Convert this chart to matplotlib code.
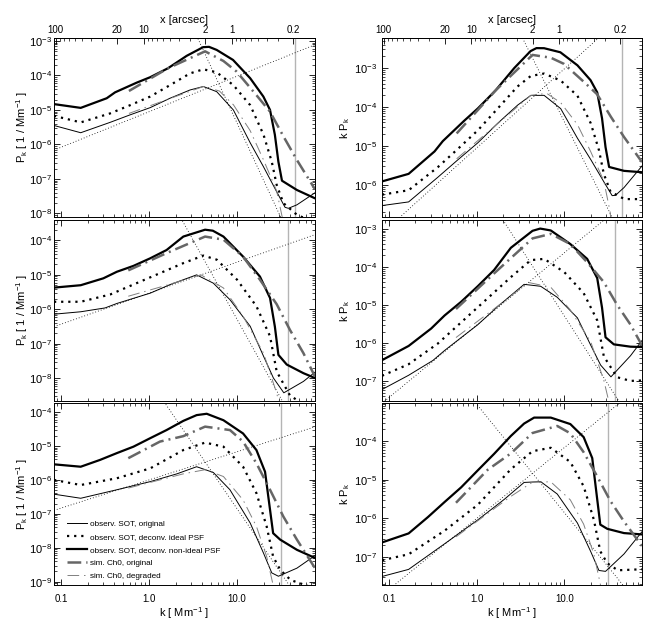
import numpy as np
import matplotlib
matplotlib.use("Agg")
import matplotlib.pyplot as plt
from matplotlib.ticker import (FixedLocator, FixedFormatter, LogLocator,
                               NullFormatter)
from matplotlib.lines import Line2D

plt.rcParams['font.family'] = ['Liberation Sans', 'DejaVu Sans']
plt.rcParams['mathtext.fontset'] = 'custom'
plt.rcParams['mathtext.rm'] = 'Liberation Sans'
plt.rcParams['mathtext.it'] = 'Liberation Sans:italic'
plt.rcParams['mathtext.default'] = 'regular'

# ---------------------------------------------------------------- data
# k in Mm^-1, P_k in 1/Mm^-1 ; right column shows k*P_k
# ---- top row
k_top_sot_nonideal = [0.083, 0.167, 0.33, 0.41, 0.72, 1.03, 1.64, 2.68, 4.11, 4.8, 5.87, 9.0, 14.1, 19.9, 23.7, 26.9, 29.5, 32.4, 47.9, 76.9]
P_top_sot_nonideal = [1.48e-5, 1.15e-5, 2.19e-5, 3.24e-5, 6.17e-5, 8.91e-5, 1.62e-4, 3.72e-4, 6.61e-4, 6.76e-4, 5.50e-4, 2.82e-4, 8.32e-5, 2.45e-5, 1.0e-5, 1.91e-6, 3.16e-7, 8.91e-8, 4.79e-8, 2.75e-8]
k_top_sot_orig = [0.083, 0.167, 0.36, 0.61, 1.03, 1.73, 2.92, 4.14, 5.87, 9.08, 14.1, 20.0, 28.2, 35.1, 38.3, 47.9, 76.9]
P_top_sot_orig = [3.55e-6, 2.19e-6, 4.37e-6, 7.24e-6, 1.17e-5, 2.19e-5, 3.80e-5, 4.79e-5, 3.39e-5, 1.0e-5, 1.12e-6, 2.24e-7, 4.27e-8, 1.51e-8, 1.41e-8, 1.78e-8, 3.98e-8]
k_top_sot_ideal = [0.083, 0.167, 0.36, 0.61, 1.03, 1.73, 2.92, 4.14, 5.87, 9.08, 14.1, 20.0, 24.8, 28.2, 33.6, 48.5, 76.9]
P_top_sot_ideal = [6.76e-6, 4.37e-6, 7.94e-6, 1.38e-5, 2.45e-5, 5.25e-5, 1.15e-4, 1.51e-4, 1.23e-4, 5.25e-5, 1.38e-5, 1.91e-6, 3.16e-7, 6.76e-8, 2.0e-8, 8.91e-9, 5.62e-9]
k_top_sim_orig = [0.59, 1.64, 4.33, 7.0, 9.9, 16.6, 23.7, 33.9, 47.9, 76.9]
P_top_sim_orig = [3.55e-5, 1.62e-4, 5.01e-4, 2.63e-4, 1.29e-4, 2.69e-5, 8.91e-6, 1.66e-6, 3.55e-7, 5.01e-8]
k_top_sim_deg = [0.59, 1.6, 4.14, 6.3, 9.1, 14.1, 20.0, 28.2, 33.2, 36.0]
P_top_sim_deg = [7.94e-6, 2.0e-5, 4.79e-5, 3.55e-5, 1.41e-5, 2.51e-6, 3.55e-7, 4.47e-8, 6.31e-9, 1.0e-9]

# ---- middle row
k_mid_sot_nonideal = [0.083, 0.167, 0.302, 0.43, 0.664, 1.03, 1.58, 2.45, 4.33, 5.3, 7.0, 11.7, 18.2, 23.7, 26.9, 29.5, 36.7, 56.8, 76.9]
P_mid_sot_nonideal = [4.27e-6, 5.01e-6, 7.94e-6, 1.23e-5, 1.82e-5, 3.02e-5, 5.25e-5, 1.29e-4, 2.04e-4, 1.91e-4, 1.29e-4, 3.39e-5, 8.91e-6, 2.14e-6, 3.16e-7, 4.79e-8, 2.51e-8, 1.41e-8, 1.02e-8]
k_mid_sot_orig = [0.083, 0.167, 0.316, 0.43, 1.03, 1.74, 3.47, 5.37, 8.3, 14.1, 20.0, 25.9, 34.0, 56.8, 76.9]
P_mid_sot_orig = [7.24e-7, 8.51e-7, 1.10e-6, 1.48e-6, 2.95e-6, 5.25e-6, 1.0e-5, 5.75e-6, 1.91e-6, 3.24e-7, 4.37e-8, 1.02e-8, 3.80e-9, 8.13e-9, 1.51e-8]
k_mid_sot_ideal = [0.083, 0.167, 0.36, 0.664, 1.33, 2.45, 4.14, 5.89, 10.0, 16.6, 23.7, 28.2, 40.0, 56.8, 76.9]
P_mid_sot_ideal = [1.66e-6, 1.66e-6, 2.69e-6, 5.25e-6, 1.12e-5, 2.19e-5, 3.63e-5, 2.75e-5, 7.24e-6, 1.23e-6, 1.66e-7, 1.58e-8, 3.16e-9, 1.78e-9, 1.35e-9]
k_mid_sim_orig = [0.58, 1.58, 4.33, 7.0, 11.7, 18.2, 28.2, 40.0, 56.8, 76.9]
P_mid_sim_orig = [1.35e-5, 4.27e-5, 1.29e-4, 1.05e-4, 3.39e-5, 7.24e-6, 1.41e-6, 2.51e-7, 5.37e-8, 1.12e-8]
k_mid_sim_deg = [0.58, 1.58, 3.89, 7.0, 11.7, 20.0, 28.2, 35.5]
P_mid_sim_deg = [2.40e-6, 5.01e-6, 1.0e-5, 4.17e-6, 6.31e-7, 5.37e-8, 3.72e-9, 3.16e-10]

# ---- bottom row
k_bot_sot_nonideal = [0.083, 0.167, 0.277, 0.43, 0.664, 1.03, 1.58, 2.45, 3.47, 4.52, 7.0, 11.7, 16.6, 20.8, 23.7, 25.7, 30.9, 47.9, 76.9]
P_bot_sot_nonideal = [2.88e-6, 2.45e-6, 3.89e-6, 6.17e-6, 9.55e-6, 1.70e-5, 2.95e-5, 5.50e-5, 8.13e-5, 8.91e-5, 5.75e-5, 2.34e-5, 7.59e-6, 1.74e-6, 1.32e-7, 2.69e-8, 1.74e-8, 8.71e-9, 5.01e-9]
k_bot_sot_orig = [0.083, 0.167, 0.43, 1.03, 2.07, 3.47, 5.37, 8.3, 14.1, 20.0, 24.8, 29.5, 47.9, 76.9]
P_bot_sot_orig = [3.80e-7, 2.88e-7, 5.13e-7, 8.91e-7, 1.51e-6, 2.45e-6, 1.66e-6, 5.13e-7, 5.37e-8, 6.92e-9, 1.82e-9, 1.45e-9, 2.51e-9, 5.89e-9]
k_bot_sot_ideal = [0.083, 0.167, 0.43, 1.03, 2.45, 4.33, 7.0, 11.7, 16.6, 21.7, 25.7, 30.9, 40.7, 76.9]
P_bot_sot_ideal = [1.0e-6, 7.08e-7, 1.12e-6, 2.19e-6, 7.59e-6, 1.26e-5, 9.55e-6, 2.45e-6, 4.07e-7, 4.27e-8, 5.50e-9, 2.24e-9, 1.12e-9, 6.31e-10]
k_bot_sim_orig = [0.58, 1.33, 2.45, 4.33, 8.3, 11.7, 16.6, 23.7, 33.6, 47.9, 76.9]
P_bot_sim_orig = [4.37e-6, 1.35e-5, 1.95e-5, 3.72e-5, 2.95e-5, 1.35e-5, 3.09e-6, 5.13e-7, 8.32e-8, 1.74e-8, 2.51e-9]
k_bot_sim_deg = [0.58, 2.45, 4.33, 7.0, 11.7, 16.6, 21.7, 25.7, 28.2]
P_bot_sim_deg = [5.75e-7, 1.51e-6, 2.0e-6, 1.26e-6, 2.57e-7, 4.27e-8, 5.50e-9, 7.94e-10, 1.58e-10]

# power-law guide lines  P = amp * k**slope  (one value per row)
guide_rise_amp = [8.9e-6, 2.95e-6, 1.0e-6]
guide_rise_slope = [1.03, 0.90, 0.83]
guide_fall_amp = [1.32, 2.04e-2, 8.9e-4]
guide_fall_slope = [-5.5, -4.6, -3.8]

# resolution limit (grey vertical line), per row
k_resolution = [45.5, 37.5, 31.4]

series_labels = ["observ. SOT, original",
                 "observ. SOT, deconv. ideal PSF",
                 "observ. SOT, deconv. non-ideal PSF",
                 "sim. Ch0, original",
                 "sim. Ch0, degraded"]

x_tick_values = [0.1, 1.0, 10.0]
x_tick_labels = ["0.1", "1.0", "10.0"]
arcsec_tick_values = [100, 20, 10, 2, 1, 0.2]
arcsec_tick_labels = ["100", "20", "10", "2", "1", "0.2"]

# ---------------------------------------------------------------- layout
K_LIM = (0.083, 76.9)
ARCSEC_K = 8.66          # x[arcsec] = ARCSEC_K / k
ylim_P = [(7.9e-9, 1.22e-3), (2.2e-9, 3.9e-4), (8.0e-10, 1.85e-4)]
ylim_kP = [(1.5e-7, 5.9e-3), (3.0e-8, 1.7e-3), (1.9e-8, 9.6e-4)]

W, H = 654, 625
col_x = [(54, 261), (382, 260)]
row_y = [(38, 217), (220, 401), (403, 585)]

styles = [
    dict(color='black', lw=0.7, ls='-'),
    dict(color='black', lw=1.6, ls=(0, (1.0, 2.2))),
    dict(color='black', lw=1.6, ls='-'),
    dict(color='#666666', lw=1.8, ls=(0, (5.5, 2.0, 0.8, 2.0))),
    dict(color='#808080', lw=0.7, ls=(0, (12, 5, 1.5, 5))),
]

rows = [
    [(k_top_sot_orig, P_top_sot_orig), (k_top_sot_ideal, P_top_sot_ideal),
     (k_top_sot_nonideal, P_top_sot_nonideal), (k_top_sim_orig, P_top_sim_orig),
     (k_top_sim_deg, P_top_sim_deg)],
    [(k_mid_sot_orig, P_mid_sot_orig), (k_mid_sot_ideal, P_mid_sot_ideal),
     (k_mid_sot_nonideal, P_mid_sot_nonideal), (k_mid_sim_orig, P_mid_sim_orig),
     (k_mid_sim_deg, P_mid_sim_deg)],
    [(k_bot_sot_orig, P_bot_sot_orig), (k_bot_sot_ideal, P_bot_sot_ideal),
     (k_bot_sot_nonideal, P_bot_sot_nonideal), (k_bot_sim_orig, P_bot_sim_orig),
     (k_bot_sim_deg, P_bot_sim_deg)],
]

fig = plt.figure(figsize=(W / 100, H / 100), dpi=100)


def arcsec(k):
    k = np.asarray(k, dtype=float)
    with np.errstate(divide='ignore', invalid='ignore'):
        return ARCSEC_K / k


for r in range(3):
    y0, y1 = row_y[r]
    for c in range(2):
        x0, w = col_x[c]
        ax = fig.add_axes([x0 / W, (H - y1) / H, w / W, (y1 - y0) / H])
        ax.set_xscale('log')
        ax.set_yscale('log')
        ax.set_xlim(*K_LIM)
        ax.set_ylim(*(ylim_P[r] if c == 0 else ylim_kP[r]))

        # resolution line
        ax.axvline(k_resolution[r], color='#b4b4b4', lw=1.0, zorder=1)

        # guides
        kg = np.array(K_LIM)
        for amp, sl in ((guide_rise_amp[r], guide_rise_slope[r]),
                        (guide_fall_amp[r], guide_fall_slope[r])):
            yg = amp * kg ** sl
            if c == 1:
                yg = yg * kg
            ax.plot(kg, yg, color='black', lw=0.6, ls=(0, (1, 2.5)), zorder=2)

        for (kk, PP), st in zip(rows[r], styles):
            kk = np.asarray(kk)
            PP = np.asarray(PP)
            yy = PP if c == 0 else kk * PP
            ax.plot(kk, yy, color=st['color'], lw=st['lw'], ls=st['ls'],
                    zorder=3, solid_joinstyle='round')

        for sp in ax.spines.values():
            sp.set_linewidth(0.7)

        ax.xaxis.set_major_locator(FixedLocator(x_tick_values))
        ax.xaxis.set_major_formatter(FixedFormatter(x_tick_labels))
        ax.xaxis.set_minor_locator(LogLocator(subs=np.arange(2, 10), numticks=20))
        ax.xaxis.set_minor_formatter(NullFormatter())
        ax.yaxis.set_major_locator(LogLocator(numticks=20))
        ax.yaxis.set_minor_locator(LogLocator(subs=np.arange(2, 10), numticks=20))
        ax.yaxis.set_minor_formatter(NullFormatter())

        ax.tick_params(which='both', direction='in', top=(r != 0), right=True)
        ax.tick_params(which='major', length=4, width=0.6)
        ax.tick_params(which='minor', length=2, width=0.5)
        ax.tick_params(axis='y', labelsize=8, pad=(1.5 if c == 0 else 3.5))
        ax.tick_params(axis='x', labelsize=7, pad=6.5,
                       labelbottom=(r == 2))

        if c == 0:
            ax.set_ylabel('P$_k$ [ 1 / Mm$^{-1}$ ]', fontsize=8)
            ax.yaxis.set_label_coords((30.5 - x0) / w, 0.5)
        else:
            ax.set_ylabel('k P$_k$', fontsize=8)
            ax.yaxis.set_label_coords((351.5 - x0) / w, 0.5)

        if r == 2:
            ax.set_xlabel('k [ Mm$^{-1}$ ]', fontsize=8)
            ax.xaxis.set_label_coords(0.5, (585 - 605.5) / (y1 - y0))

        if r == 0:
            sec = ax.secondary_xaxis('top', functions=(arcsec, arcsec))
            sec.xaxis.set_major_locator(FixedLocator(arcsec_tick_values))
            sec.xaxis.set_major_formatter(FixedFormatter(arcsec_tick_labels))
            sec.xaxis.set_minor_locator(LogLocator(subs=np.arange(2, 10), numticks=20))
            sec.xaxis.set_minor_formatter(NullFormatter())
            sec.tick_params(which='both', direction='in')
            sec.tick_params(which='major', length=4, width=0.6, labelsize=7, pad=2.5)
            sec.tick_params(which='minor', length=2, width=0.5)
            sec.spines['top'].set_linewidth(0.7)
            sec.set_xlabel('x [arcsec]', fontsize=8, labelpad=1.0)

        if r == 2 and c == 0:
            handles = [Line2D([], [], color=st['color'], lw=st['lw'], ls=st['ls'])
                       for st in styles]
            ax.legend(handles, series_labels, loc='lower left',
                      bbox_to_anchor=(0.05, 0.03), frameon=False,
                      fontsize=5.9, handlelength=2.4, handletextpad=0.4,
                      labelspacing=0.62, borderpad=0, borderaxespad=0)

fig.savefig('out.png', dpi=100)
